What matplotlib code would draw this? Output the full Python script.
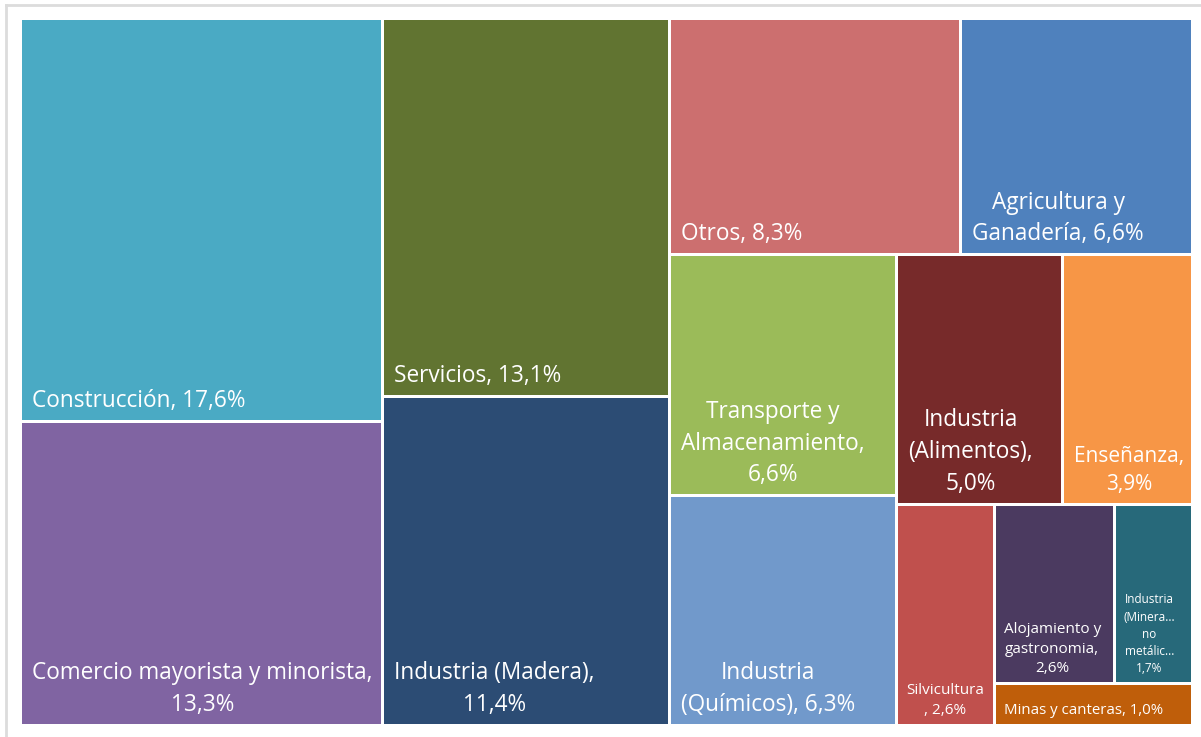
import matplotlib.pyplot as plt
from matplotlib.patches import Rectangle

# tile data (share of total, %)
sectors = ["Construcción", "Comercio mayorista y minorista", "Servicios",
           "Industria (Madera)", "Otros", "Agricultura y Ganadería",
           "Transporte y Almacenamiento", "Industria (Químicos)",
           "Industria (Alimentos)", "Enseñanza", "Silvicultura",
           "Alojamiento y gastronomia", "Industria (Minerales no metálicos)",
           "Minas y canteras"]
shares = [17.6, 13.3, 13.1, 11.4, 8.3, 6.6, 6.6, 6.3, 5.0, 3.9, 2.6, 2.6, 1.7, 1.0]

# how the labels wrap / get cut in the tiles ({} = percentage)
label_fmt = ["Construcción, {}%",
             "Comercio mayorista y minorista,\n{}%",
             "Servicios, {}%",
             "Industria (Madera),\n{}%",
             "Otros, {}%",
             "Agricultura y\nGanadería, {}%",
             "Transporte y\nAlmacenamiento,\n{}%",
             "Industria\n(Químicos), {}%",
             "Industria\n(Alimentos),\n{}%",
             "Enseñanza,\n{}%",
             "Silvicultura\n, {}%",
             "Alojamiento y\ngastronomia,\n{}%",
             "Industria\n(Minera...\nno\nmetálic...\n{}%",
             "Minas y canteras, {}%"]

# strips of the squarified layout (indices into the lists above)
strips = [[0, 1], [2, 3], [4, 5], [6, 7], [8, 9], [10], [11, 12], [13]]

colors = ["#4AAAC4", "#8064A2", "#617431", "#2C4C74", "#CC6F6F", "#4F81BD",
          "#9BBB59", "#7199CB", "#772A2A", "#F79646", "#C0504D", "#4B3A60",
          "#27697A", "#BF5E0A"]
font_sizes = [16.3, 16.3, 16.3, 16.3, 16.3, 16.3, 16.3, 16.3, 16.3, 15, 11, 11, 8.5, 10.8]


def layout(values, strips, x, y, w, h):
    rects = {}
    remaining = sum(values)
    for strip in strips:
        s = sum(values[i] for i in strip)
        if w >= h:
            cw = w * s / remaining
            yy = y
            for i in strip:
                ch = h * values[i] / s
                rects[i] = (x, yy, cw, ch)
                yy += ch
            x += cw
            w -= cw
        else:
            rh = h * s / remaining
            xx = x
            for i in strip:
                cw = w * values[i] / s
                rects[i] = (xx, y, cw, rh)
                xx += cw
            y += rh
            h -= rh
        remaining -= s
    return rects


plt.rcParams['font.family'] = ['Open Sans', 'DejaVu Sans']

fig = plt.figure(figsize=(12.01, 7.37), dpi=100)
ax = fig.add_axes([0, 0, 1, 1])
ax.set_xlim(0, 1201)
ax.set_ylim(737, 0)
ax.axis('off')

# outer frame of the visual
ax.plot([6, 1201], [5, 5], color="#DCDCDC", lw=2)
ax.plot([6, 6], [5, 737], color="#DCDCDC", lw=2)

gap = 1.5
rects = layout(shares, strips, 20.5, 18.5, 1172, 707)
for i, (x, y, w, h) in rects.items():
    ax.add_patch(Rectangle((x + gap, y + gap), w - 2 * gap, h - 2 * gap,
                           facecolor=colors[i], edgecolor='none'))
    fs = font_sizes[i]
    pad = 10 if fs >= 13 else 8
    bpad = 13 if fs >= 13 else 10
    pct = f"{shares[i]:.1f}".replace(".", ",")
    ax.text(x + gap + pad, y + h - gap - bpad, label_fmt[i].format(pct),
            ha='left', va='baseline', multialignment='center',
            color='white', fontsize=fs, linespacing=1.42)

fig.savefig("out.png", dpi=100)
